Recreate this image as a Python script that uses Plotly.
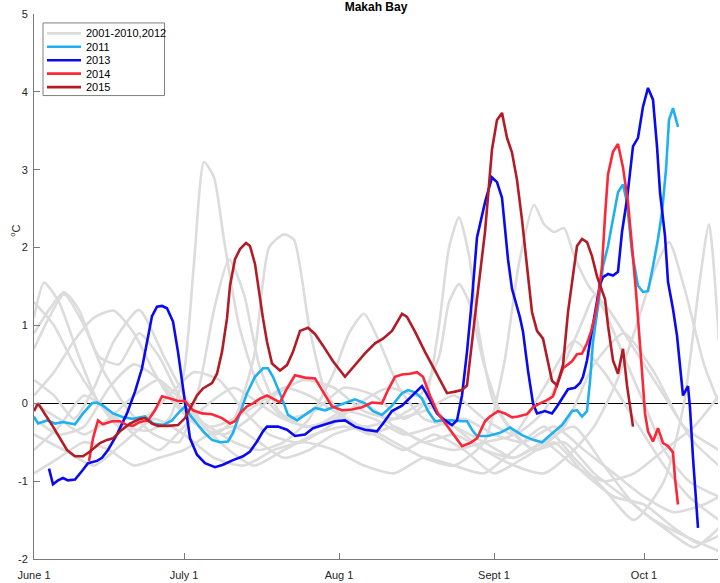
import plotly.graph_objects as go

# ---- data: days since June 1, anomaly (deg C) ----
tick_days = [0, 30, 61, 92, 122]
tick_labels = ["June 1", "July 1", "Aug 1", "Sept 1", "Oct 1"]

y_ticks = [-2, -1, 0, 1, 2, 3, 4, 5]
y_labels = ["-2", "-1", "0", "1", "2", "3", "4", "5"]

# background years 2001-2010, 2012 (approximate traces)
gray_days = [
    [0, 2, 5, 9, 13, 18, 23, 27, 30, 32, 34, 36, 38, 41, 45, 50, 56, 62, 68, 74, 80, 86, 92, 98, 104, 110, 116, 122, 128, 134, 137],
    [0, 3, 6, 10, 14, 19, 24, 29, 33, 36, 39, 42, 45, 49, 54, 60, 66, 72, 78, 84, 90, 96, 102, 108, 114, 120, 126, 131, 137],
    [0, 4, 8, 12, 16, 21, 26, 31, 36, 40, 44, 47, 50, 52, 55, 58, 62, 67, 72, 78, 84, 90, 96, 102, 108, 114, 120, 126, 132, 137],
    [0, 5, 10, 15, 20, 25, 30, 35, 40, 45, 50, 55, 60, 63, 66, 69, 73, 78, 84, 90, 96, 102, 108, 114, 120, 126, 132, 137],
    [0, 5, 10, 15, 20, 25, 30, 35, 40, 45, 50, 56, 62, 68, 74, 78, 81, 83, 85, 87, 89, 92, 96, 100, 106, 112, 118, 124, 130, 137],
    [0, 4, 8, 12, 17, 22, 27, 32, 37, 42, 47, 53, 59, 65, 71, 77, 81, 83, 85, 87, 90, 94, 100, 106, 112, 118, 124, 130, 137],
    [0, 5, 10, 15, 20, 25, 30, 35, 40, 45, 50, 55, 60, 66, 72, 78, 84, 90, 94, 97, 100, 102, 104, 106, 108, 111, 115, 120, 126, 132, 137],
    [0, 5, 10, 15, 20, 25, 30, 35, 40, 45, 50, 55, 60, 66, 72, 78, 84, 90, 96, 102, 108, 112, 116, 120, 124, 127, 130, 134, 137],
    [0, 6, 12, 18, 24, 30, 36, 42, 48, 54, 60, 66, 72, 78, 84, 90, 96, 102, 108, 114, 120, 126, 130, 133, 135, 137],
    [0, 4, 8, 12, 16, 20, 24, 28, 33, 38, 43, 48, 54, 60, 66, 72, 78, 84, 90, 96, 102, 106, 110, 112, 114, 118, 122, 126, 131, 137],
    [0, 3, 6, 9, 13, 17, 21, 25, 29, 34, 39, 44, 50, 56, 62, 68, 74, 80, 86, 92, 98, 104, 110, 116, 122, 128, 133, 137],
]
gray_vals = [
    [1.1, 1.55, 1.3, 0.6, 0.0, -0.3, -0.35, -0.2, 0.4, 1.8, 3.1, 2.9, 2.1, 1.0, 0.2, -0.2, -0.3, -0.1, -0.2, -0.4, -0.3, -0.2, -0.4, -0.5, -0.3, -0.6, -0.9, -1.2, -1.4, -1.3, -1.2],
    [0.7, 1.1, 1.4, 1.0, 0.4, -0.1, -0.4, -0.5, 0.2, 1.2, 1.85, 1.4, 0.5, -0.1, -0.3, -0.2, 0.0, -0.3, -0.5, -0.6, -0.5, -0.4, 0.2, 0.8, 0.4, -0.2, -0.8, -1.2, -1.5],
    [0.3, 0.1, -0.2, 0.2, 0.8, 1.2, 0.6, 0.0, -0.4, -0.2, 0.6, 2.0, 2.17, 2.1, 1.0, 0.2, -0.2, -0.4, -0.3, -0.5, -0.4, -0.6, -0.7, -0.5, -0.3, -0.8, -1.3, -1.6, -1.85, -1.6],
    [-0.2, -0.4, -0.3, 0.2, 0.5, 0.3, -0.1, -0.3, -0.5, -0.6, -0.5, -0.2, 0.4, 0.9, 1.15, 0.8, 0.2, -0.2, -0.3, -0.5, -0.7, -0.5, -0.8, -1.0, -0.9, -0.6, -0.3, 0.1],
    [-0.6, -0.3, 0.1, -0.1, -0.4, -0.6, -0.3, 0.0, 0.2, 0.0, -0.2, -0.1, 0.2, 0.1, -0.2, 0.0, 1.0, 2.0, 2.39, 1.9, 0.9, 0.0, -0.4, -0.6, -0.5, -0.9, -1.2, -1.5, -1.7, -1.9],
    [1.3, 1.0, 0.5, 0.1, -0.3, -0.2, 0.1, 0.4, 0.3, -0.1, -0.4, -0.5, -0.3, 0.0, 0.2, 0.1, 0.6, 1.3, 1.53, 1.3, 0.5, -0.2, -0.6, -0.3, 0.5, 0.9, 0.4, -0.3, -0.6],
    [-0.9, -0.7, -0.5, -0.6, -0.8, -0.7, -0.6, -0.4, -0.3, -0.5, -0.7, -0.6, -0.4, -0.3, -0.5, -0.7, -0.8, -0.5, 0.5, 1.8, 2.55, 2.3, 2.2, 2.25, 1.9, 1.5, 1.2, 0.7, 0.1, -0.5, -0.8],
    [0.0, -0.2, -0.4, -0.2, 0.1, 0.3, 0.0, -0.3, -0.2, 0.0, 0.2, 0.1, -0.1, -0.3, -0.2, 0.0, -0.3, -0.6, -0.8, -0.9, -0.6, -0.3, 0.2, 0.9, 1.7, 2.07, 1.5, 0.5, 0.0],
    [-0.4, -0.6, -0.8, -0.5, -0.2, -0.4, -0.7, -0.8, -0.6, -0.5, -0.6, -0.8, -0.9, -0.7, -0.8, -0.9, -0.6, -0.3, -0.7, -1.1, -1.5, -1.0, 0.0, 1.5, 2.3, 0.8],
    [0.1, 0.4, 0.8, 1.1, 1.19, 0.9, 0.4, 0.0, -0.3, -0.4, -0.2, 0.1, 0.3, 0.2, -0.1, -0.2, -0.1, 0.1, -0.2, -0.4, -0.1, 0.5, 1.1, 1.38, 1.2, 0.6, 0.0, -0.6, -1.0, -1.2],
    [0.9, 1.2, 1.43, 1.2, 0.6, 0.5, 0.9, 0.6, 0.1, -0.3, -0.6, -0.8, -0.6, -0.4, -0.3, -0.4, -0.6, -0.4, -0.6, -0.9, -0.7, -0.5, -0.9, -1.2, -1.3, -1.6, -1.8, -1.7],
]

days_2011 = [0, 0.8, 2.6, 4.2, 5.8, 8.2, 9.8, 11.6, 12.6, 13.8, 15.8, 17.8, 19.8, 22.2, 23.8, 25.8, 27.6, 28.8, 30.2, 31.2,
             32.6, 33.8, 35.6, 37.2, 38.8, 39.8, 41.2, 42.6, 44.2, 45.8, 46.8, 47.8, 49.6, 50.8, 52.6, 54.2, 56.2, 58.2, 60.2, 62.2,
             64.2, 66.2, 67.8, 69.6, 71.6, 73.6, 74.8, 76.2, 77.6, 78.8, 80.2, 81.6, 83.6, 85.6, 86.6, 87.6, 88.6, 90.8, 93.2, 95.2,
             97.6, 99.8, 101.6, 103.2, 105.6, 107.6, 108.6, 109.6, 110.6, 111.2, 111.8, 112.8, 113.8, 114.8, 115.8, 116.8, 117.8, 118.6, 119.6, 120.8,
             121.8, 122.8, 123.8, 124.8, 125.6, 126.4, 127.0, 127.8, 128.8]
vals_2011 = [-0.17, -0.26, -0.22, -0.26, -0.24, -0.27, -0.13, 0.0, 0.01, -0.03, -0.13, -0.18, -0.2, -0.17, -0.26, -0.28, -0.22, -0.13, -0.04, -0.15,
             -0.26, -0.36, -0.47, -0.5, -0.49, -0.38, -0.13, 0.13, 0.34, 0.45, 0.45, 0.34, 0.06, -0.15, -0.22, -0.15, -0.06, -0.09, -0.04, 0.0,
             0.05, 0.0, -0.1, -0.15, -0.03, 0.13, 0.17, 0.14, 0.06, -0.1, -0.23, -0.22, -0.22, -0.23, -0.23, -0.34, -0.42, -0.42, -0.38, -0.31,
             -0.41, -0.47, -0.5, -0.41, -0.28, -0.1, -0.09, -0.17, -0.1, 0.28, 0.79, 1.25, 1.76, 2.02, 2.38, 2.71, 2.81, 2.58, 1.94, 1.51,
             1.43, 1.44, 1.76, 2.11, 2.45, 3.0, 3.64, 3.79, 3.55]

days_2013 = [3.0, 3.8, 4.8, 5.8, 6.8, 8.2, 9.6, 10.8, 12.6, 13.6, 14.8, 16.6, 18.6, 20.2, 21.6, 22.6, 23.6, 24.6, 25.6, 26.6,
             27.8, 28.8, 29.8, 30.6, 31.2, 32.6, 34.2, 36.2, 37.8, 39.8, 41.8, 43.2, 44.6, 45.8, 46.6, 48.8, 50.6, 52.2, 54.2, 55.8,
             58.2, 60.2, 62.2, 64.2, 66.2, 68.6, 69.8, 71.6, 73.6, 75.6, 77.6, 78.8, 80.6, 82.2, 83.6, 84.6, 85.6, 86.6, 87.6, 88.6,
             90.2, 91.6, 92.6, 93.6, 94.2, 94.8, 95.6, 96.6, 97.2, 97.8, 98.8, 99.8, 100.6, 102.2, 103.6, 104.6, 105.8, 106.8, 108.2, 109.2,
             109.8, 110.6, 111.2, 112.2, 113.2, 113.8, 114.8, 115.8, 116.8, 117.6, 118.6, 119.8, 120.8, 121.8, 122.8, 123.8, 124.6, 125.2, 126.2, 126.8,
             127.8, 128.6, 129.2, 129.8, 130.8, 131.2, 131.8, 132.8]
vals_2013 = [-0.84, -1.04, -0.99, -0.96, -0.99, -0.98, -0.87, -0.77, -0.74, -0.7, -0.6, -0.4, -0.13, 0.15, 0.45, 0.79, 1.12, 1.24, 1.25, 1.22,
             1.05, 0.66, 0.19, -0.19, -0.45, -0.66, -0.77, -0.82, -0.79, -0.73, -0.68, -0.62, -0.49, -0.36, -0.3, -0.3, -0.34, -0.42, -0.4, -0.32,
             -0.27, -0.23, -0.22, -0.3, -0.34, -0.36, -0.26, -0.1, -0.03, 0.09, 0.22, 0.09, -0.13, -0.22, -0.28, -0.22, 0.1, 0.66, 1.34, 2.13,
             2.58, 2.9, 2.84, 2.64, 2.27, 1.85, 1.47, 1.25, 1.1, 0.92, 0.42, 0.0, -0.13, -0.1, -0.13, -0.04, 0.09, 0.18, 0.2, 0.26,
             0.34, 0.55, 0.79, 1.17, 1.53, 1.62, 1.66, 1.64, 1.69, 2.2, 2.62, 3.3, 3.41, 3.81, 4.05, 3.9, 3.3, 2.71, 2.15, 1.56,
             1.21, 0.87, 0.49, 0.1, 0.22, -0.06, -0.7, -1.6]

days_2014 = [11.0, 11.8, 12.8, 13.8, 15.6, 17.2, 18.6, 19.8, 21.2, 22.8, 24.2, 25.6, 27.2, 28.8, 30.2, 31.8, 33.6, 35.6, 37.6, 39.2,
             40.2, 41.2, 42.6, 43.8, 45.2, 46.6, 47.8, 49.2, 50.6, 52.2, 54.2, 56.2, 57.8, 59.6, 61.6, 63.6, 65.6, 67.6, 69.6, 70.8,
             72.2, 73.6, 75.2, 76.6, 77.8, 79.2, 80.8, 82.8, 84.2, 85.6, 87.2, 88.6, 90.2, 91.2, 92.8, 94.2, 95.6, 96.8, 98.6, 99.8,
             101.2, 102.6, 103.8, 104.6, 105.8, 107.6, 108.6, 109.6, 110.6, 111.4, 112.2, 112.8, 113.6, 114.2, 114.8, 115.8, 116.8, 117.8, 118.8, 119.6,
             120.4, 121.6, 122.2, 122.8, 123.8, 124.8, 125.8, 126.8, 127.8, 128.2, 128.8]
vals_2014 = [-0.74, -0.45, -0.22, -0.27, -0.23, -0.23, -0.28, -0.29, -0.24, -0.22, -0.09, 0.09, 0.06, 0.03, 0.03, -0.09, -0.13, -0.14, -0.19, -0.26,
             -0.23, -0.13, -0.04, 0.0, 0.06, 0.1, 0.06, 0.01, 0.19, 0.36, 0.33, 0.32, 0.15, -0.04, -0.09, -0.08, -0.05, 0.01, 0.0, 0.17,
             0.34, 0.37, 0.38, 0.4, 0.34, 0.1, -0.13, -0.3, -0.42, -0.55, -0.51, -0.45, -0.23, -0.17, -0.1, -0.13, -0.18, -0.17, -0.14, -0.05,
             0.0, 0.04, 0.09, 0.23, 0.45, 0.54, 0.63, 0.64, 0.77, 0.92, 1.12, 1.34, 1.76, 2.4, 2.94, 3.23, 3.33, 3.03, 2.58, 2.02,
             1.43, 0.41, -0.13, -0.36, -0.49, -0.32, -0.51, -0.55, -0.63, -0.96, -1.3]

days_2015 = [0.0, 0.8, 3.8, 6.6, 8.2, 9.8, 11.2, 13.2, 14.6, 15.8, 17.2, 19.2, 21.2, 22.2, 23.6, 24.8, 26.8, 28.8, 30.2, 32.6,
             33.8, 35.6, 36.6, 37.6, 38.6, 39.2, 40.2, 41.2, 42.4, 43.2, 44.2, 45.2, 45.8, 46.6, 47.6, 49.2, 50.6, 51.8, 53.2, 54.8,
             56.2, 57.8, 59.8, 62.2, 64.2, 66.2, 68.2, 69.8, 71.6, 73.6, 74.6, 76.2, 78.2, 80.6, 82.6, 84.2, 85.6, 86.6, 87.6, 88.6,
             90.2, 91.6, 92.6, 93.6, 94.6, 95.6, 96.6, 97.6, 98.6, 99.6, 100.6, 101.8, 103.6, 104.6, 105.8, 106.8, 108.6, 109.6, 110.6, 111.6,
             112.6, 114.2, 114.8, 115.8, 116.8, 117.8, 118.6, 119.8]
vals_2015 = [-0.1, 0.0, -0.3, -0.6, -0.68, -0.68, -0.62, -0.51, -0.47, -0.45, -0.36, -0.26, -0.2, -0.19, -0.26, -0.29, -0.29, -0.28, -0.19, 0.1,
             0.19, 0.26, 0.38, 0.66, 1.09, 1.51, 1.85, 1.98, 2.06, 2.02, 1.79, 1.34, 1.09, 0.79, 0.51, 0.42, 0.49, 0.66, 0.93, 0.97,
             0.89, 0.74, 0.54, 0.34, 0.49, 0.64, 0.77, 0.83, 0.93, 1.15, 1.11, 0.92, 0.66, 0.36, 0.13, 0.15, 0.17, 0.23, 0.83, 1.34,
             2.2, 3.26, 3.64, 3.73, 3.41, 3.22, 2.87, 2.36, 1.76, 1.17, 0.93, 0.83, 0.29, 0.23, 0.49, 1.17, 2.02, 2.11, 2.07, 1.89,
             1.63, 1.34, 1.0, 0.55, 0.38, 0.7, 0.23, -0.3]

legend_names = ["2001-2010,2012", "2011", "2013", "2014", "2015"]
legend_colors = ["#dcdcdc", "#1fb0f0", "#0a0af0", "#fa2838", "#b31c26"]

# ---- figure ----
W, H = 720, 583
ML, MR, MT, MB = 34, 2, 14, 21
PW, PH = W - ML - MR, H - MT - MB


def px(xp):
    return (xp - ML) / PW


def py(yp):
    return (H - MB - yp) / PH


fig = go.Figure()
for i, (d, v) in enumerate(zip(gray_days, gray_vals)):
    fig.add_trace(go.Scatter(x=d, y=v, mode="lines",
                             line=dict(color=legend_colors[0], width=2.6, shape="spline", smoothing=0.6),
                             name=legend_names[0], legendgroup="bg", showlegend=False, hoverinfo="skip"))

series = [
    (legend_names[1], days_2011, vals_2011, legend_colors[1]),
    (legend_names[2], days_2013, vals_2013, legend_colors[2]),
    (legend_names[3], days_2014, vals_2014, legend_colors[3]),
    (legend_names[4], days_2015, vals_2015, legend_colors[4]),
]
for name, d, v, c in series:
    fig.add_trace(go.Scatter(x=d, y=v, mode="lines", line=dict(color=c, width=2.6), name=name, showlegend=False))

# compact legend box (drawn manually to match spacing)
shapes = [dict(type="rect", xref="paper", yref="paper", x0=px(43), x1=px(164.5), y0=py(96), y1=py(23),
               line=dict(color="#808080", width=1), fillcolor="white", layer="above")]
annotations = []
row_y = [33.5, 47, 60.5, 74, 87.5]
for name, c, ry in zip(legend_names, legend_colors, row_y):
    shapes.append(dict(type="line", xref="paper", yref="paper", x0=px(47), x1=px(81), y0=py(ry), y1=py(ry),
                       line=dict(color=c, width=2.6), layer="above"))
    annotations.append(dict(text=name, x=px(84), y=py(ry), xref="paper", yref="paper", xanchor="left",
                            yanchor="middle", showarrow=False, font=dict(size=11, color="#000000")))

annotations.append(dict(text="<sup>o</sup>C", x=px(6), y=py(232), xref="paper", yref="paper",
                        showarrow=False, textangle=-90, font=dict(size=11, color="#262626")))

axis_color = "#7a7a7a"
fig.update_layout(
    width=W, height=H,
    margin=dict(l=ML, r=MR, t=MT, b=MB),
    paper_bgcolor="white", plot_bgcolor="white",
    font=dict(family="Liberation Sans, Arial, sans-serif", size=11, color="#262626"),
    title=dict(text="<b>Makah Bay</b>", x=0.5, xanchor="center", xref="paper",
               y=1 - 6.5 / H, yref="container", yanchor="middle", font=dict(size=12, color="#000000")),
    showlegend=False,
    hovermode=False,
    xaxis=dict(range=[0, 136.8], tickvals=tick_days, ticktext=tick_labels, ticks="inside", ticklen=6,
               tickcolor=axis_color, showline=True, linecolor=axis_color, linewidth=1,
               showgrid=False, zeroline=False, mirror=False, ticklabelstandoff=6),
    yaxis=dict(range=[-2, 5], tickvals=y_ticks, ticktext=y_labels, ticks="inside", ticklen=6,
               tickcolor=axis_color, showline=True, linecolor=axis_color, linewidth=1,
               showgrid=False, zeroline=True, zerolinecolor="#000000", zerolinewidth=1.5, mirror=False,
               ticklabelstandoff=3),
    shapes=shapes,
    annotations=annotations,
)

fig.write_html("out.html", config={"displayModeBar": False, "staticPlot": True},
               post_script="document.body.style.margin='0';document.body.style.padding='0';")
